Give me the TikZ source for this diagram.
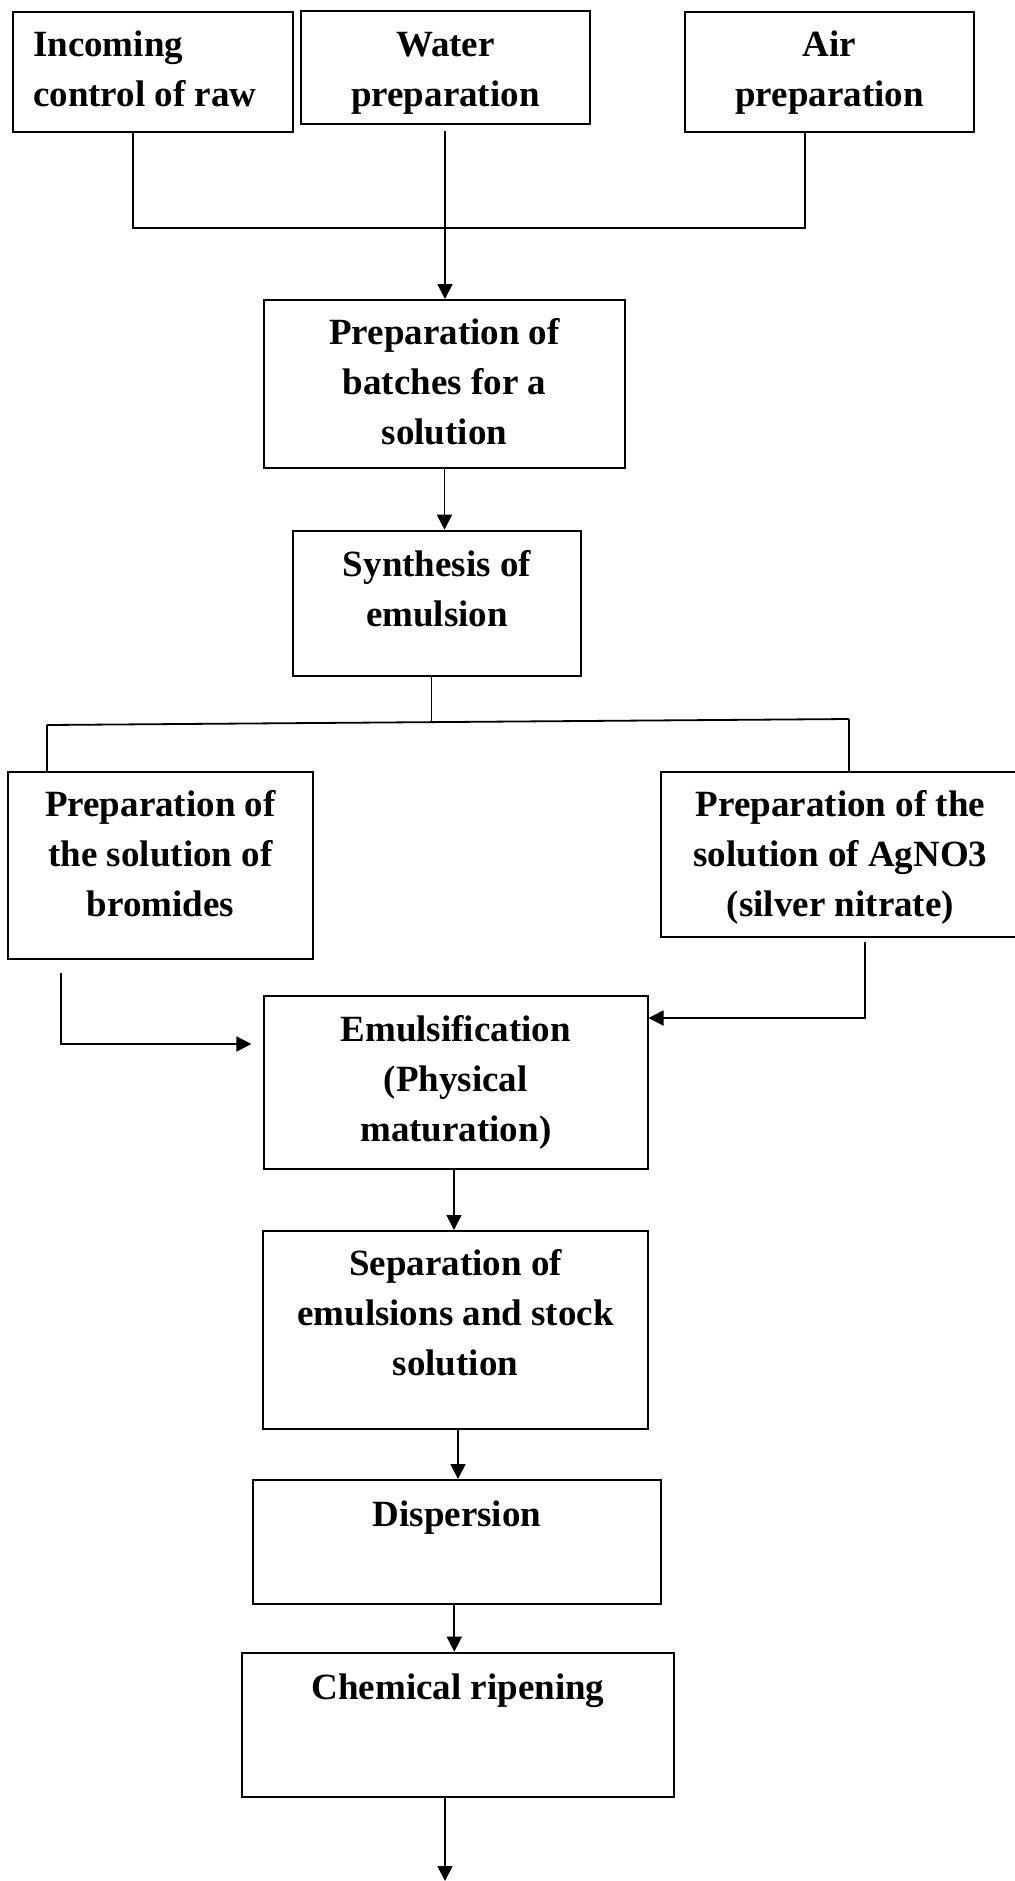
\documentclass[tikz,border=0pt]{standalone}
\usepackage{fontspec}
\setmainfont{Liberation Serif}
\usetikzlibrary{fit,arrows.meta}
\tikzset{
  box/.style={draw, line width=1pt, inner sep=0pt, rectangle},
  txt/.style={inner sep=0pt, align=center, font=\fontsize{18.5}{25}\selectfont\bfseries},
  conn/.style={line width=0.9pt},
  arr/.style={line width=0.9pt, -{Triangle[length=7.5pt,width=7.5pt]}}
}
\begin{document}
\begin{tikzpicture}[x=0.5pt,y=-0.5pt]
\useasboundingbox (0,0) rectangle (1014,1881);
% boxes
\node[box, fit={(12.9,11.7) (293,132)}] (inc) {};
\node[box, fit={(300.8,11) (590,124)}] (wat) {};
\node[box, fit={(685,11.7) (974,132)}] (air) {};
\node[box, fit={(264,300) (625,468)}] (prep) {};
\node[box, fit={(292.7,530.7) (581.3,676)}] (synth) {};
\node[box, fit={(7.8,772) (313,958.7)}] (brom) {};
\node[box, fit={(661,772) (1020,936.7)}] (ag) {};
\node[box, fit={(264,996) (647.5,1169)}] (emul) {};
\node[box, fit={(263,1231) (648,1429)}] (sep) {};
\node[box, fit={(252.7,1480) (661.3,1604)}] (disp) {};
\node[box, fit={(241.7,1652.7) (674.3,1797)}] (chem) {};
% texts
\node[txt, anchor=north west, align=left] (inc-t) at ([xshift=10.4pt,yshift=-5pt]inc.north west) {\strut Incoming\\control of raw};
\node[txt, anchor=north] (wat-t) at ([yshift=-5.5pt]wat.north) {\strut Water\\preparation};
\node[txt, anchor=north] (air-t) at ([yshift=-5pt]air.north) {\strut Air\\preparation};
\node[txt, anchor=north] (prep-t) at ([yshift=-5pt]prep.north) {\strut Preparation of\\batches for a\\solution};
\node[txt, anchor=north] (synth-t) at ([yshift=-5.5pt]synth.north) {\strut Synthesis of\\emulsion};
\node[txt, anchor=north] (brom-t) at ([yshift=-5pt]brom.north) {\strut Preparation of\\the solution of\\bromides};
\node[txt, anchor=north] (ag-t) at ([yshift=-5pt]ag.north) {\strut Preparation of the\\solution of AgNO3\\(silver nitrate)};
\node[txt, anchor=north] (emul-t) at ([yshift=-5.5pt]emul.north) {\strut Emulsification\\(Physical\\maturation)};
\node[txt, anchor=north] (sep-t) at ([yshift=-5pt]sep.north) {\strut Separation of\\emulsions and stock\\solution};
\node[txt, anchor=north] (disp-t) at ([yshift=-6pt]disp.north) {\strut Dispersion};
\node[txt, anchor=north] (chem-t) at ([yshift=-6pt]chem.north) {\strut Chemical ripening};
% connectors top
\coordinate (j1) at (132.6,228);
\coordinate (j2) at (805.3,228);
\draw[conn] (inc.south -| j1) -- (j1) -- (j2) -- (air.south -| j2);
\coordinate (w1) at (445,131);
\draw[arr] (w1) -- (w1 |- prep.north);
\draw[arr] (prep.south) -- (synth.north -| prep.south);
% split
\coordinate (s1) at (431.5,722);
\coordinate (hL) at (46.6,725);
\coordinate (hR) at (849,719);
\draw[conn] (synth.south -| s1) -- (s1);
\draw[conn] (hL) -- (hR);
\draw[conn] (hL) -- (hL |- brom.north);
\draw[conn] (hR) -- (hR |- ag.north);
% merge into emulsification
\coordinate (b1) at (60.8,973);
\coordinate (b2) at (60.8,1044);
\draw[arr] (b1) -- (b2) -- ([xshift=-5.8pt]b2 -| emul.west);
\coordinate (a1) at (864.8,942);
\coordinate (a2) at (864.8,1018);
\draw[arr] (a1) -- (a2) -- (a2 -| emul.east);
% chain
\coordinate (e1) at (454,1169);
\draw[arr] (e1) -- (e1 |- sep.north);
\coordinate (e2) at (458,1429);
\draw[arr] (e2) -- (e2 |- disp.north);
\coordinate (e3) at (454.3,1604);
\draw[arr] (e3) -- (e3 |- chem.north);
\coordinate (endp) at (445,1881);
\draw[arr] (chem.south -| endp) -- (endp);
\end{tikzpicture}
\end{document}
